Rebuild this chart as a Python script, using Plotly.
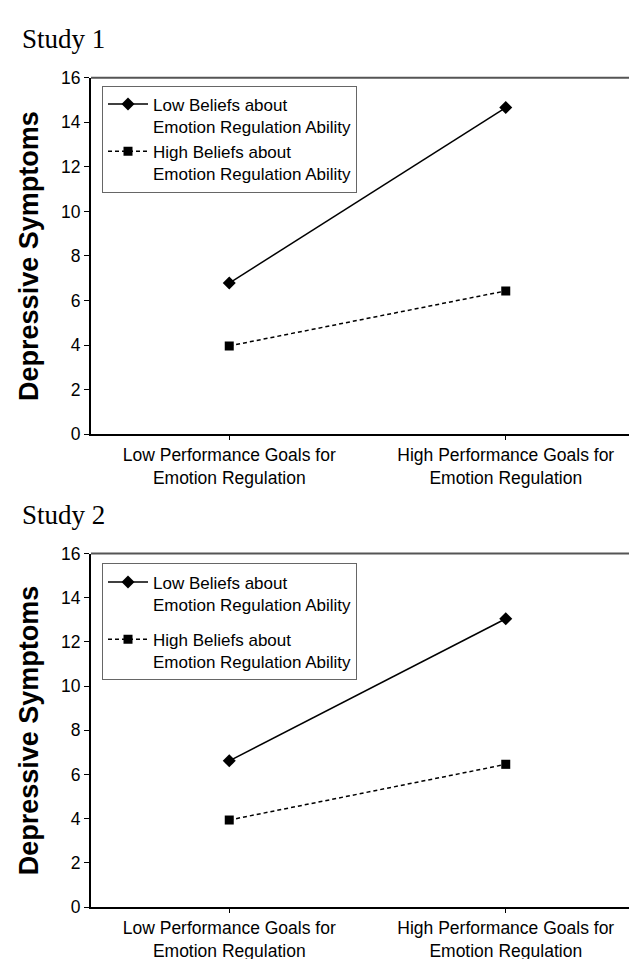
import plotly.graph_objects as go

categories = ["Low Performance Goals for<br>Emotion Regulation",
              "High Performance Goals for<br>Emotion Regulation"]
series_names = ["Low Beliefs about<br>Emotion Regulation Ability",
                "High Beliefs about<br>Emotion Regulation Ability"]
study1_low_beliefs = [6.78, 14.66]
study1_high_beliefs = [3.96, 6.43]
study2_low_beliefs = [6.62, 13.05]
study2_high_beliefs = [3.94, 6.46]
y_ticks = [0, 2, 4, 6, 8, 10, 12, 14, 16]
panel_titles = ["Study 1", "Study 2"]
y_title = "Depressive Symptoms"

W, H = 637, 959
def py(p):
    return 1 - p / H
def px(p):
    return p / W

fig = go.Figure()

panels = [
    dict(low=study1_low_beliefs, high=study1_high_beliefs, xa="x", ya="y", legend="legend"),
    dict(low=study2_low_beliefs, high=study2_high_beliefs, xa="x2", ya="y2", legend="legend2"),
]
for i, p in enumerate(panels):
    fig.add_trace(go.Scatter(
        x=categories, y=p["low"], name=series_names[0], mode="lines+markers",
        line=dict(color="black", width=1.5),
        marker=dict(symbol="diamond", size=10, color="black"),
        xaxis=p["xa"], yaxis=p["ya"], legend=p["legend"], legendgroup="a%d" % i))
    fig.add_trace(go.Scatter(
        x=categories, y=p["high"], name=series_names[1], mode="lines+markers",
        line=dict(color="black", width=1.5, dash="4px,3px"),
        marker=dict(symbol="square", size=9, color="black"),
        xaxis=p["xa"], yaxis=p["ya"], legend=p["legend"], legendgroup="b%d" % i))

xdom = [px(83), px(636)]
ydom1 = [py(425), py(61)]
ydom2 = [py(908), py(547)]

sans = "Liberation Sans, Arial, sans-serif"
tickfont = dict(family=sans, size=17.5, color="black")
xtickfont = dict(family=sans, size=17.5, color="black")

def xaxis(anchor):
    return dict(domain=xdom, anchor=anchor, type="category", range=[-0.5, 1.5],
                showline=True, linecolor="black", linewidth=2,
                ticks="outside", ticklen=4, tickcolor="black", tickwidth=1,
                showgrid=False, zeroline=False, tickfont=xtickfont, fixedrange=True)

def yaxis(dom, anchor):
    return dict(domain=dom, anchor=anchor, range=[0, 16], tickvals=y_ticks,
                showline=True, linecolor="black", linewidth=2,
                ticks="outside", ticklen=5, tickcolor="black", tickwidth=1,
                showgrid=False, zeroline=False, tickfont=tickfont, fixedrange=True)

legend_common = dict(xanchor="left", yanchor="top", bgcolor="white",
                     bordercolor="#666666", borderwidth=1,
                     font=dict(family=sans, size=17, color="black"),
                     valign="top", itemwidth=40)

fig.update_layout(
    width=W, height=H,
    margin=dict(l=0, r=0, t=0, b=0),
    paper_bgcolor="white", plot_bgcolor="white",
    showlegend=True,
    xaxis=xaxis("y"), yaxis=yaxis(ydom1, "x"),
    xaxis2=xaxis("y2"), yaxis2=yaxis(ydom2, "x2"),
    legend=dict(x=px(94), y=py(69), tracegroupgap=0, **legend_common),
    legend2=dict(x=px(94), y=py(557), tracegroupgap=10, **legend_common),
)

# plot frame (top and right borders)
for xr, yr in [("x domain", "y domain"), ("x2 domain", "y2 domain")]:
    fig.add_shape(type="line", xref=xr, yref=yr, x0=0, x1=1, y0=1, y1=1,
                  line=dict(color="#555555", width=2))
    fig.add_shape(type="line", xref=xr, yref=yr, x0=1, x1=1, y0=0, y1=1,
                  line=dict(color="#555555", width=2))

# panel titles
for t, ytop in zip(panel_titles, [py(4), py(490)]):
    fig.add_annotation(text=t, xref="paper", yref="paper", x=px(12), y=ytop,
                       xanchor="left", yanchor="top", showarrow=False,
                       font=dict(family="Liberation Serif, Times New Roman, serif", size=27, color="black"))

# y titles
for yc in [py((61 + 425) / 2), py((547 + 908) / 2)]:
    fig.add_annotation(text="<b>" + y_title + "</b>", xref="paper", yref="paper",
                       x=px(21), y=yc, xanchor="center", yanchor="middle",
                       textangle=-90, showarrow=False,
                       font=dict(family=sans, size=27, color="black"))

fig.write_html("out.html")
